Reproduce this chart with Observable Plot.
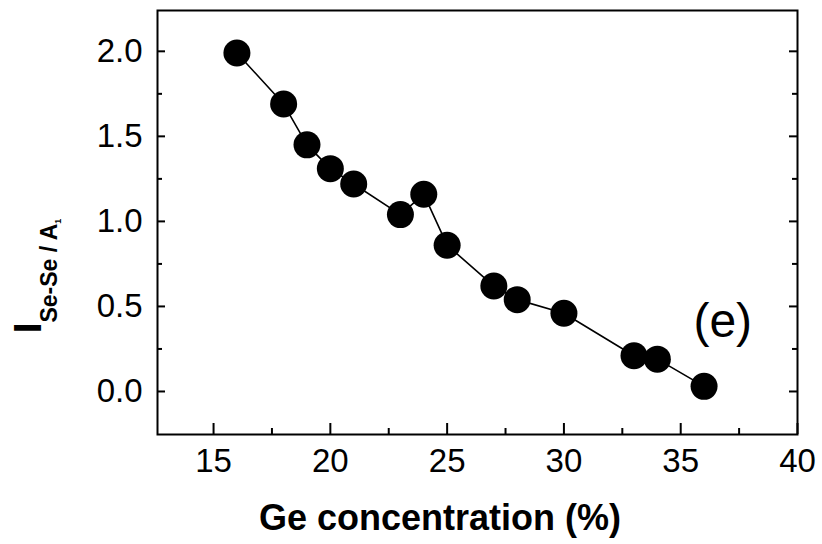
<!DOCTYPE html>
<html>
<head>
<meta charset="utf-8">
<script src="https://cdn.jsdelivr.net/npm/d3@7"></script>
<script src="https://cdn.jsdelivr.net/npm/@observablehq/plot@0.6"></script>
<style>
  html, body { margin: 0; padding: 0; background: #fff; }
  #chart { width: 822px; height: 544px; }
</style>
</head>
<body>
<div id="chart"></div>
<script>
// Data
const geConcentration = [16, 18, 19, 20, 21, 23, 24, 25, 27, 28, 30, 33, 34, 36];
const intensityRatio  = [1.99, 1.69, 1.45, 1.31, 1.22, 1.04, 1.16, 0.86, 0.62, 0.54, 0.46, 0.21, 0.19, 0.03];

const xTickLabels = [15, 20, 25, 30, 35, 40];
const xMinorTicks = [17.5, 22.5, 27.5, 32.5, 37.5];
const yTickLabels = [0.0, 0.5, 1.0, 1.5, 2.0];
const yMinorTicks = [0.25, 0.75, 1.25, 1.75];

const xTitle = "Ge concentration (%)";
const yTitleMain = "I";
const yTitleSub = "Se-Se / A";
const yTitleSubSub = "1";
const annotations = [{label: "(e)", x: 36.8, y: 0.41}];

const data = geConcentration.map((x, i) => ({x, y: intensityRatio[i]}));

const W = 822, H = 544;
const mL = 157, mR = 25, mT = 10, mB = 110;
const fw = W - mL - mR, fh = H - mT - mB;

const chart = Plot.plot({
  width: W,
  height: H,
  marginLeft: mL,
  marginRight: mR,
  marginTop: mT,
  marginBottom: mB,
  style: {fontFamily: "'Liberation Sans', Arial, Helvetica, sans-serif", background: "#fff", color: "#000"},
  x: {domain: [12.6, 40]},
  y: {domain: [-0.253, 2.24]},
  marks: [
    // inward ticks
    Plot.tickX(xTickLabels, {x: d => d, insetTop: fh - 11, stroke: "black", strokeWidth: 2}),
    Plot.tickX(xMinorTicks, {x: d => d, insetTop: fh - 6, stroke: "black", strokeWidth: 2}),
    Plot.tickY(yTickLabels, {y: d => d, insetRight: fw - 8, stroke: "black", strokeWidth: 2}),
    Plot.tickY(yMinorTicks, {y: d => d, insetRight: fw - 5, stroke: "black", strokeWidth: 2}),
    Plot.tickY(yTickLabels, {y: d => d, insetLeft: fw - 8, stroke: "black", strokeWidth: 2}),
    Plot.tickY(yMinorTicks, {y: d => d, insetLeft: fw - 5, stroke: "black", strokeWidth: 2}),
    Plot.axisX({ticks: xTickLabels, tickSize: 0, tickPadding: 14, fontSize: 33, label: null, tickFormat: d => String(d)}),
    Plot.axisY({ticks: yTickLabels, tickSize: 0, tickPadding: 15, fontSize: 33, label: null, tickFormat: d3.format(".1f")}),
    Plot.line(data, {x: "x", y: "y", stroke: "black", strokeWidth: 1.6}),
    Plot.dot(data, {x: "x", y: "y", r: 13.5, fill: "black", stroke: "none"}),
    Plot.text(annotations, {x: "x", y: "y", text: "label", fontSize: 48, textAnchor: "middle", fill: "black"}),
    Plot.frame({stroke: "black", strokeWidth: 2})
  ]
});

const svg = d3.select(chart);
// x axis title
svg.append("text")
  .attr("x", 440)
  .attr("y", 530)
  .attr("text-anchor", "middle")
  .attr("font-size", 36)
  .attr("font-weight", "bold")
  .attr("fill", "black")
  .text(xTitle);

// y axis title with subscripts
const yt = svg.append("text")
  .attr("transform", "translate(41,276) rotate(-90)")
  .attr("font-weight", "bold")
  .attr("fill", "black");
yt.append("tspan").attr("font-size", 39).text(yTitleMain);
yt.append("tspan").attr("font-size", 23).attr("dy", 16).text(yTitleSub);
yt.append("tspan").attr("font-size", 9).attr("dy", 4).text(yTitleSubSub);

document.getElementById("chart").appendChild(chart);
</script>
</body>
</html>
